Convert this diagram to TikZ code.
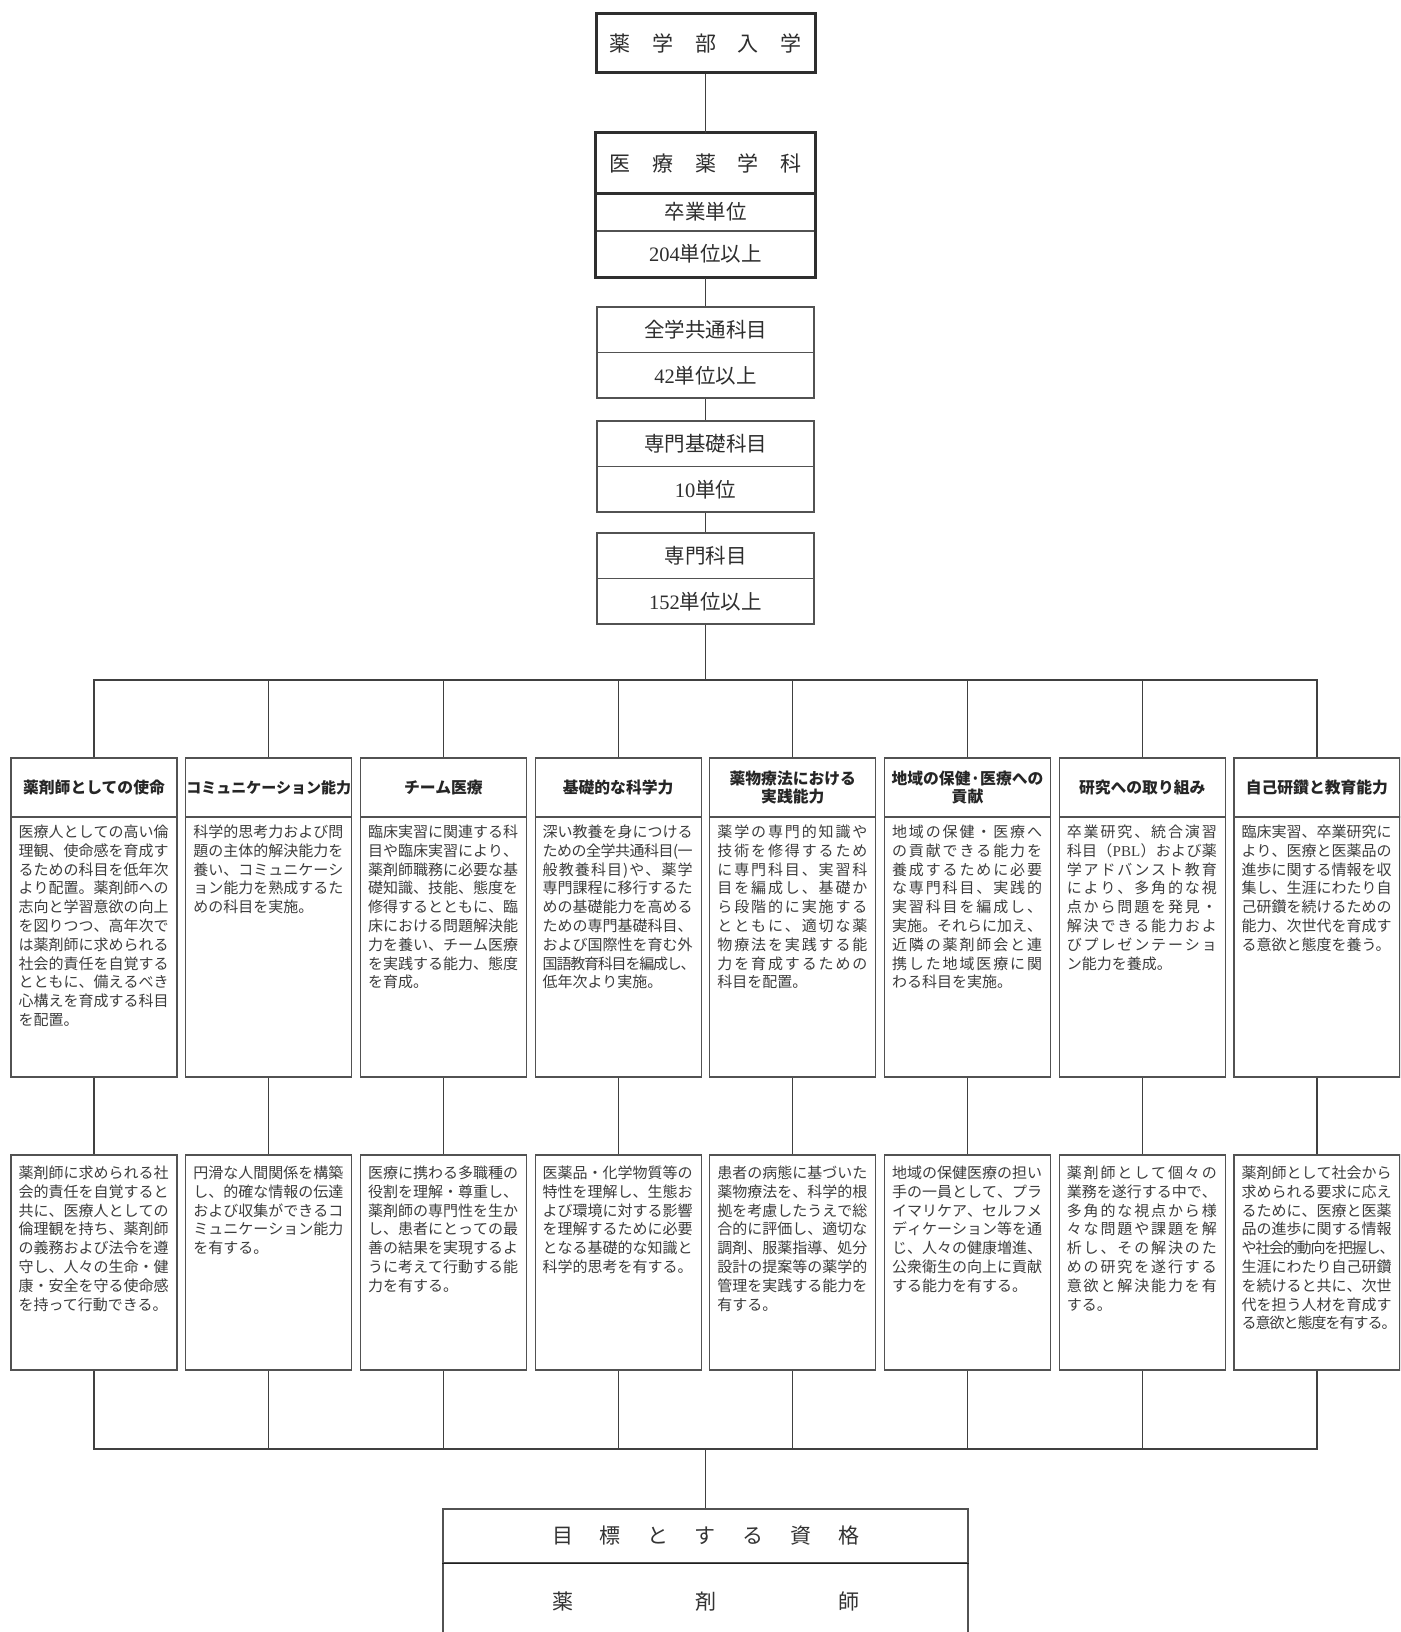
\documentclass[tikz,border=0pt]{standalone}
\usepackage{fontspec}
\setmainfont{Noto Sans CJK JP}
\newfontfamily\lat{Liberation Serif}
\makeatletter
\newdimen\jw \jw=150pt
\def\@jus#1{\ifx\@nil#1\else#1\hskip0pt plus 1fil minus 1fil\expandafter\@jus\fi}
\newcommand\jl[1]{\hbox to \jw{\@jus#1\@nil\unskip}}
\newcommand\jlw[2]{\hbox to #1{\@jus#2\@nil\unskip}}
\newcommand\jn[1]{\hbox{#1}}
\newcommand\jbody[1]{\vtop{\baselineskip=18.8pt\lineskiplimit=-30pt\lineskip=0pt #1}}
\makeatother
\begin{document}
\begin{tikzpicture}[x=1pt,y=-1pt,
  ln/.style={draw=black!68, line width=1.2pt},
  thkline/.style={draw=black!82, line width=3pt},
  conn/.style={draw=black!75, line width=1.2pt},
  hd/.style={ln, minimum width=166pt, minimum height=59pt, inner sep=0pt, align=center,
    font=\fontsize{15.8pt}{18pt}\selectfont\bfseries, text=black!85},
  bd/.style={ln, minimum width=166pt, minimum height=260pt, inner sep=0pt},
  lw/.style={ln, minimum width=166pt, minimum height=215pt, inner sep=0pt},
  tx/.style={inner sep=0pt, anchor=north west, font=\fontsize{15pt}{18.8pt}\selectfont, text=black!76},
  mb/.style={ln, minimum width=217pt, minimum height=45.5pt, inner sep=0pt,
    font=\fontsize{20.5pt}{24pt}\selectfont, text=black!82},
  tb/.style={minimum width=219pt, inner sep=0pt, font=\fontsize{20.5pt}{24pt}\selectfont, text=black!82},
  gl/.style={ln, minimum width=525pt, inner sep=0pt, font=\fontsize{21pt}{24pt}\selectfont, text=black!80}
]
\useasboundingbox (0,0) rectangle (1400,1632);
\clip (0,0) rectangle (1400,1632);
\fill[white] (0,0) rectangle (1400,1632);

% top column
\node[tb, thkline, minimum height=59pt, font=\fontsize{21pt}{24pt}\selectfont] (ent) at (705.5,43.5)
  {\makebox[192pt][s]{薬\hfil 学\hfil 部\hfil 入\hfil 学}};
\node[tb, minimum height=60pt, font=\fontsize{21pt}{24pt}\selectfont] (dept) at (705.5,163)
  {\makebox[192pt][s]{医\hfil 療\hfil 薬\hfil 学\hfil 科}};
\node[tb, ln, minimum height=38pt] (grad) at (705.5,212) {卒業単位};
\node[tb, ln, minimum height=46pt] (gradn) at (705.5,254) {{\lat 204}単位以上};
\draw[thkline] (dept.north west) rectangle (gradn.south east);
\draw[thkline] (dept.south west) -- (dept.south east);

\node[mb] (c1a) at (705.5,329.75) {全学共通科目};
\node[mb] (c1b) at (705.5,375.25) {{\lat 42}単位以上};
\node[mb] (c2a) at (705.5,443.75) {専門基礎科目};
\node[mb] (c2b) at (705.5,489.25) {{\lat 10}単位};
\node[mb] (c3a) at (705.5,555.75) {専門科目};
\node[mb] (c3b) at (705.5,601.25) {{\lat 152}単位以上};

\draw[conn] (ent.south) -- (dept.north);
\draw[conn] (gradn.south) -- (c1a.north);
\draw[conn] (c1b.south) -- (c2a.north);
\draw[conn] (c2b.south) -- (c3a.north);

% headers
\node[hd] (h1) at (94,787.5) {薬剤師としての使命};
\node[hd, font=\fontsize{15pt}{18pt}\selectfont\bfseries] (h2) at (268.7,787.5) {コミュニケーション能力};
\node[hd] (h3) at (443.4,787.5) {チーム医療};
\node[hd] (h4) at (618.1,787.5) {基礎的な科学力};
\node[hd] (h5) at (792.8,787.5) {薬物療法における\\実践能力};
\node[hd] (h6) at (967.5,787.5) {地域の保健·医療への\\貢献};
\node[hd] (h7) at (1142.2,787.5) {研究への取り組み};
\node[hd] (h8) at (1316.9,787.5) {自己研鑽と教育能力};

% bodies
\node[bd] (b1) at (94,947) {};
\node[bd] (b2) at (268.7,947) {};
\node[bd] (b3) at (443.4,947) {};
\node[bd] (b4) at (618.1,947) {};
\node[bd] (b5) at (792.8,947) {};
\node[bd] (b6) at (967.5,947) {};
\node[bd] (b7) at (1142.2,947) {};
\node[bd] (b8) at (1316.9,947) {};

\node[tx] (t1) at ([xshift=8pt,yshift=-8.2pt]b1.north west) {\jbody{\jl{医療人としての高い倫}\jl{理観、使命感を育成す}\jl{るための科目を低年次}\jl{より配置。薬剤師への}\jl{志向と学習意欲の向上}\jl{を図りつつ、高年次で}\jl{は薬剤師に求められる}\jl{社会的責任を自覚する}\jl{とともに、備えるべき}\jl{心構えを育成する科目}\jn{を配置。}}};
\node[tx] (t2) at ([xshift=8pt,yshift=-8.2pt]b2.north west) {\jbody{\jl{科学的思考力および問}\jl{題の主体的解決能力を}\jl{養い、コミュニケーシ}\jl{ョン能力を熟成するた}\jn{めの科目を実施。}}};
\node[tx] (t3) at ([xshift=8pt,yshift=-8.2pt]b3.north west) {\jbody{\jl{臨床実習に関連する科}\jl{目や臨床実習により、}\jl{薬剤師職務に必要な基}\jl{礎知識、技能、態度を}\jl{修得するとともに、臨}\jl{床における問題解決能}\jl{力を養い、チーム医療}\jl{を実践する能力、態度}\jn{を育成。}}};
\node[tx] (t4) at ([xshift=8pt,yshift=-8.2pt]b4.north west) {\jbody{\jl{深い教養を身につける}\jl{ための全学共通科目(一}\jl{般教養科目)や、薬学}\jl{専門課程に移行するた}\jl{めの基礎能力を高める}\jl{ための専門基礎科目、}\jl{および国際性を育む外}\jlw{153pt}{国語教育科目を編成し、}\jn{低年次より実施。}}};
\node[tx] (t5) at ([xshift=8pt,yshift=-8.2pt]b5.north west) {\jbody{\jl{薬学の専門的知識や}\jl{技術を修得するため}\jl{に専門科目、実習科}\jl{目を編成し、基礎か}\jl{ら段階的に実施する}\jl{とともに、適切な薬}\jl{物療法を実践する能}\jl{力を育成するための}\jn{科目を配置。}}};
\node[tx] (t6) at ([xshift=8pt,yshift=-8.2pt]b6.north west) {\jbody{\jl{地域の保健・医療へ}\jl{の貢献できる能力を}\jl{養成するために必要}\jl{な専門科目、実践的}\jl{実習科目を編成し、}\jl{実施。それらに加え、}\jl{近隣の薬剤師会と連}\jl{携した地域医療に関}\jn{わる科目を実施。}}};
\node[tx] (t7) at ([xshift=8pt,yshift=-8.2pt]b7.north west) {\jbody{\jl{卒業研究、統合演習}\jl{科目（{{\lat PBL}}）および薬}\jl{学アドバンスト教育}\jl{により、多角的な視}\jl{点から問題を発見・}\jl{解決できる能力およ}\jl{びプレゼンテーショ}\jn{ン能力を養成。}}};
\node[tx] (t8) at ([xshift=8pt,yshift=-8.2pt]b8.north west) {\jbody{\jl{臨床実習、卒業研究に}\jl{より、医療と医薬品の}\jl{進歩に関する情報を収}\jl{集し、生涯にわたり自}\jl{己研鑽を続けるための}\jl{能力、次世代を育成す}\jn{る意欲と態度を養う。}}};

% lower boxes
\node[lw] (l1) at (94,1262.5) {};
\node[lw] (l2) at (268.7,1262.5) {};
\node[lw] (l3) at (443.4,1262.5) {};
\node[lw] (l4) at (618.1,1262.5) {};
\node[lw] (l5) at (792.8,1262.5) {};
\node[lw] (l6) at (967.5,1262.5) {};
\node[lw] (l7) at (1142.2,1262.5) {};
\node[lw] (l8) at (1316.9,1262.5) {};

\node[tx] (u1) at ([xshift=8pt,yshift=-11.2pt]l1.north west) {\jbody{\jl{薬剤師に求められる社}\jl{会的責任を自覚すると}\jl{共に、医療人としての}\jl{倫理観を持ち、薬剤師}\jl{の義務および法令を遵}\jl{守し、人々の生命・健}\jl{康・安全を守る使命感}\jn{を持って行動できる。}}};
\node[tx] (u2) at ([xshift=8pt,yshift=-11.2pt]l2.north west) {\jbody{\jl{円滑な人間関係を構築}\jl{し、的確な情報の伝達}\jl{および収集ができるコ}\jl{ミュニケーション能力}\jn{を有する。}}};
\node[tx] (u3) at ([xshift=8pt,yshift=-11.2pt]l3.north west) {\jbody{\jl{医療に携わる多職種の}\jl{役割を理解・尊重し、}\jl{薬剤師の専門性を生か}\jl{し、患者にとっての最}\jl{善の結果を実現するよ}\jl{うに考えて行動する能}\jn{力を有する。}}};
\node[tx] (u4) at ([xshift=8pt,yshift=-11.2pt]l4.north west) {\jbody{\jl{医薬品・化学物質等の}\jl{特性を理解し、生態お}\jl{よび環境に対する影響}\jl{を理解するために必要}\jl{となる基礎的な知識と}\jn{科学的思考を有する。}}};
\node[tx] (u5) at ([xshift=8pt,yshift=-11.2pt]l5.north west) {\jbody{\jl{患者の病態に基づいた}\jl{薬物療法を、科学的根}\jl{拠を考慮したうえで総}\jl{合的に評価し、適切な}\jl{調剤、服薬指導、処分}\jl{設計の提案等の薬学的}\jl{管理を実践する能力を}\jn{有する。}}};
\node[tx] (u6) at ([xshift=8pt,yshift=-11.2pt]l6.north west) {\jbody{\jl{地域の保健医療の担い}\jl{手の一員として、プラ}\jl{イマリケア、セルフメ}\jl{ディケーション等を通}\jl{じ、人々の健康増進、}\jl{公衆衛生の向上に貢献}\jn{する能力を有する。}}};
\node[tx] (u7) at ([xshift=8pt,yshift=-11.2pt]l7.north west) {\jbody{\jl{薬剤師として個々の}\jl{業務を遂行する中で、}\jl{多角的な視点から様}\jl{々な問題や課題を解}\jl{析し、その解決のた}\jl{めの研究を遂行する}\jl{意欲と解決能力を有}\jn{する。}}};
\node[tx] (u8) at ([xshift=8pt,yshift=-11.2pt]l8.north west) {\jbody{\jl{薬剤師として社会から}\jl{求められる要求に応え}\jl{るために、医療と医薬}\jl{品の進歩に関する情報}\jlw{153pt}{や社会的動向を把握し、}\jl{生涯にわたり自己研鑽}\jl{を続けると共に、次世}\jl{代を担う人材を育成す}\jlw{155pt}{る意欲と態度を有する。}}};

% goal
\node[gl, minimum height=54pt] (goalA) at (705.5,1536)
  {\makebox[307pt][s]{目\hfil 標\hfil と\hfil す\hfil る\hfil 資\hfil 格}};
\node[gl, minimum height=78pt] (goalB) at (705.5,1602)
  {\raisebox{2pt}{\makebox[307pt][s]{薬\hfil 剤\hfil 師}}};
\draw[draw=black!88, line width=1.2pt] (goalA.south west) -- (goalA.south east);

% connectors
\coordinate (bt) at (705.5,680);
\coordinate (bb) at (705.5,1449);
\draw[conn] (c3b.south) -- (bt);
\foreach \i in {1,...,8} {
  \draw[conn] (h\i.north) |- (bt);
  \draw[conn] (b\i.south) -- (l\i.north);
  \draw[conn] (l\i.south) |- (bb);
}
\draw[conn] (bb) -- (goalA.north);
\end{tikzpicture}
\end{document}
